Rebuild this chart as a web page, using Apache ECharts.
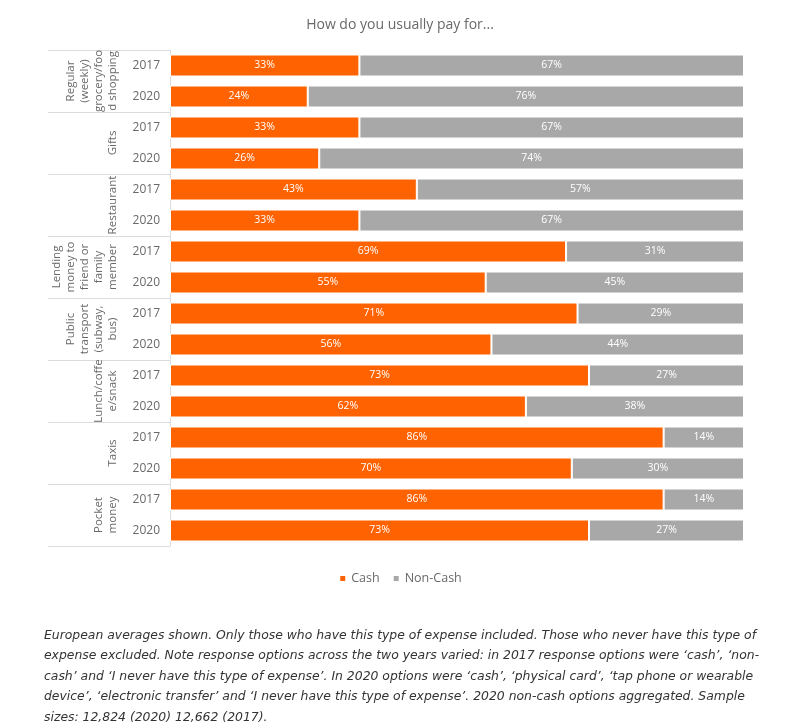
<!DOCTYPE html>
<html>
<head>
<meta charset="utf-8">
<script src="https://cdn.jsdelivr.net/npm/echarts@6/dist/echarts.min.js"></script>
<style>
  html, body { margin: 0; padding: 0; background: #fff; }
  #chart { width: 800px; height: 728px; }
</style>
</head>
<body>
<div id="chart"></div>
<script>
// 分组与年份（每组两行：2017 / 2020）
const GROUPS = [
  "Regular\n(weekly)\ngrocery/foo\nd shopping",
  "Gifts",
  "Restaurant",
  "Lending\nmoney to\nfriend or\nfamily\nmember",
  "Public\ntransport\n(subway,\nbus)",
  "Lunch/coffe\ne/snack",
  "Taxis",
  "Pocket\nmoney",
];
const YEARS = ["2017", "2020", "2017", "2020", "2017", "2020", "2017", "2020",
  "2017", "2020", "2017", "2020", "2017", "2020", "2017", "2020"];

const CASH = [33, 24, 33, 26, 43, 33, 69, 55, 71, 56, 73, 62, 86, 70, 86, 73];
const NON_CASH = [67, 76, 67, 74, 57, 67, 31, 45, 29, 44, 27, 38, 14, 30, 14, 27];

const ORANGE = "#ff6200";
const GREY = "#a8a8a8";
const TEXT = "#696969";
const LINE = "#dcdcdc";
const FONT = "'Open Sans', 'Noto Sans', sans-serif";

const NOTE = [
  "European averages shown. Only those who have this type of expense included. Those who never have this type of",
  "expense excluded. Note response options across the two years varied: in 2017 response options were \u2018cash\u2019, \u2018non-",
  "cash\u2019 and \u2018I never have this type of expense\u2019. In 2020 options were \u2018cash\u2019, \u2018physical card\u2019, \u2018tap phone or wearable",
  "device\u2019, \u2018electronic transfer\u2019 and \u2018I never have this type of expense\u2019. 2020 non-cash options aggregated. Sample",
  "sizes: 12,824 (2020) 12,662 (2017).",
].join("\n");

const chart = echarts.init(document.getElementById("chart"));

const barLabel = {
  show: true,
  position: "inside",
  color: "#fff",
  fontSize: 10.5,
  fontFamily: FONT,
  formatter: "{c}%",
};

chart.setOption({
  animation: false,
  textStyle: { fontFamily: FONT },
  title: [
    {
      text: "How do you usually pay for...",
      left: "center",
      top: 13,
      textStyle: { color: TEXT, fontSize: 14, fontWeight: "normal", fontFamily: FONT },
    },
    {
      text: NOTE,
      left: 39,
      top: 620,
      textStyle: {
        color: "#333",
        fontSize: 12.4,
        fontStyle: "italic",
        fontWeight: "normal",
        lineHeight: 20.6,
        fontFamily: "'DejaVu Sans', sans-serif",
      },
    },
  ],
  legend: {
    bottom: 138,
    left: "center",
    itemWidth: 7,
    itemHeight: 7,
    itemGap: 12,
    icon: "rect",
    textStyle: { color: TEXT, fontSize: 12.5, fontFamily: FONT },
    data: ["Cash", "Non-Cash"],
  },
  grid: { left: 170, right: 56, top: 50, bottom: 182, containLabel: false },
  xAxis: {
    type: "value",
    min: 0,
    max: 100,
    show: false,
  },
  yAxis: [
    {
      type: "category",
      data: YEARS,
      inverse: true,
      position: "left",
      axisLine: { show: false },
      axisTick: { show: false },
      axisLabel: { color: TEXT, fontSize: 12, margin: 10, fontFamily: FONT },
    },
    {
      type: "category",
      data: GROUPS,
      inverse: true,
      position: "left",
      axisLine: { show: true, lineStyle: { color: LINE, width: 1 } },
      axisTick: { show: true, length: 122, interval: 0, lineStyle: { color: LINE, width: 1 } },
      axisLabel: {
        color: TEXT,
        fontSize: 11.5,
        rotate: 90,
        margin: 50,
        lineHeight: 14,
        interval: 0,
        fontFamily: FONT,
      },
    },
  ],
  series: [
    {
      name: "Cash",
      type: "bar",
      stack: "pay",
      yAxisIndex: 0,
      barWidth: 22,
      data: CASH,
      itemStyle: { color: ORANGE, borderColor: "#fff", borderWidth: 1 },
      label: barLabel,
    },
    {
      name: "Non-Cash",
      type: "bar",
      stack: "pay",
      yAxisIndex: 0,
      barWidth: 22,
      data: NON_CASH,
      itemStyle: { color: GREY, borderColor: "#fff", borderWidth: 1 },
      label: barLabel,
    },
  ],
});
</script>
</body>
</html>
